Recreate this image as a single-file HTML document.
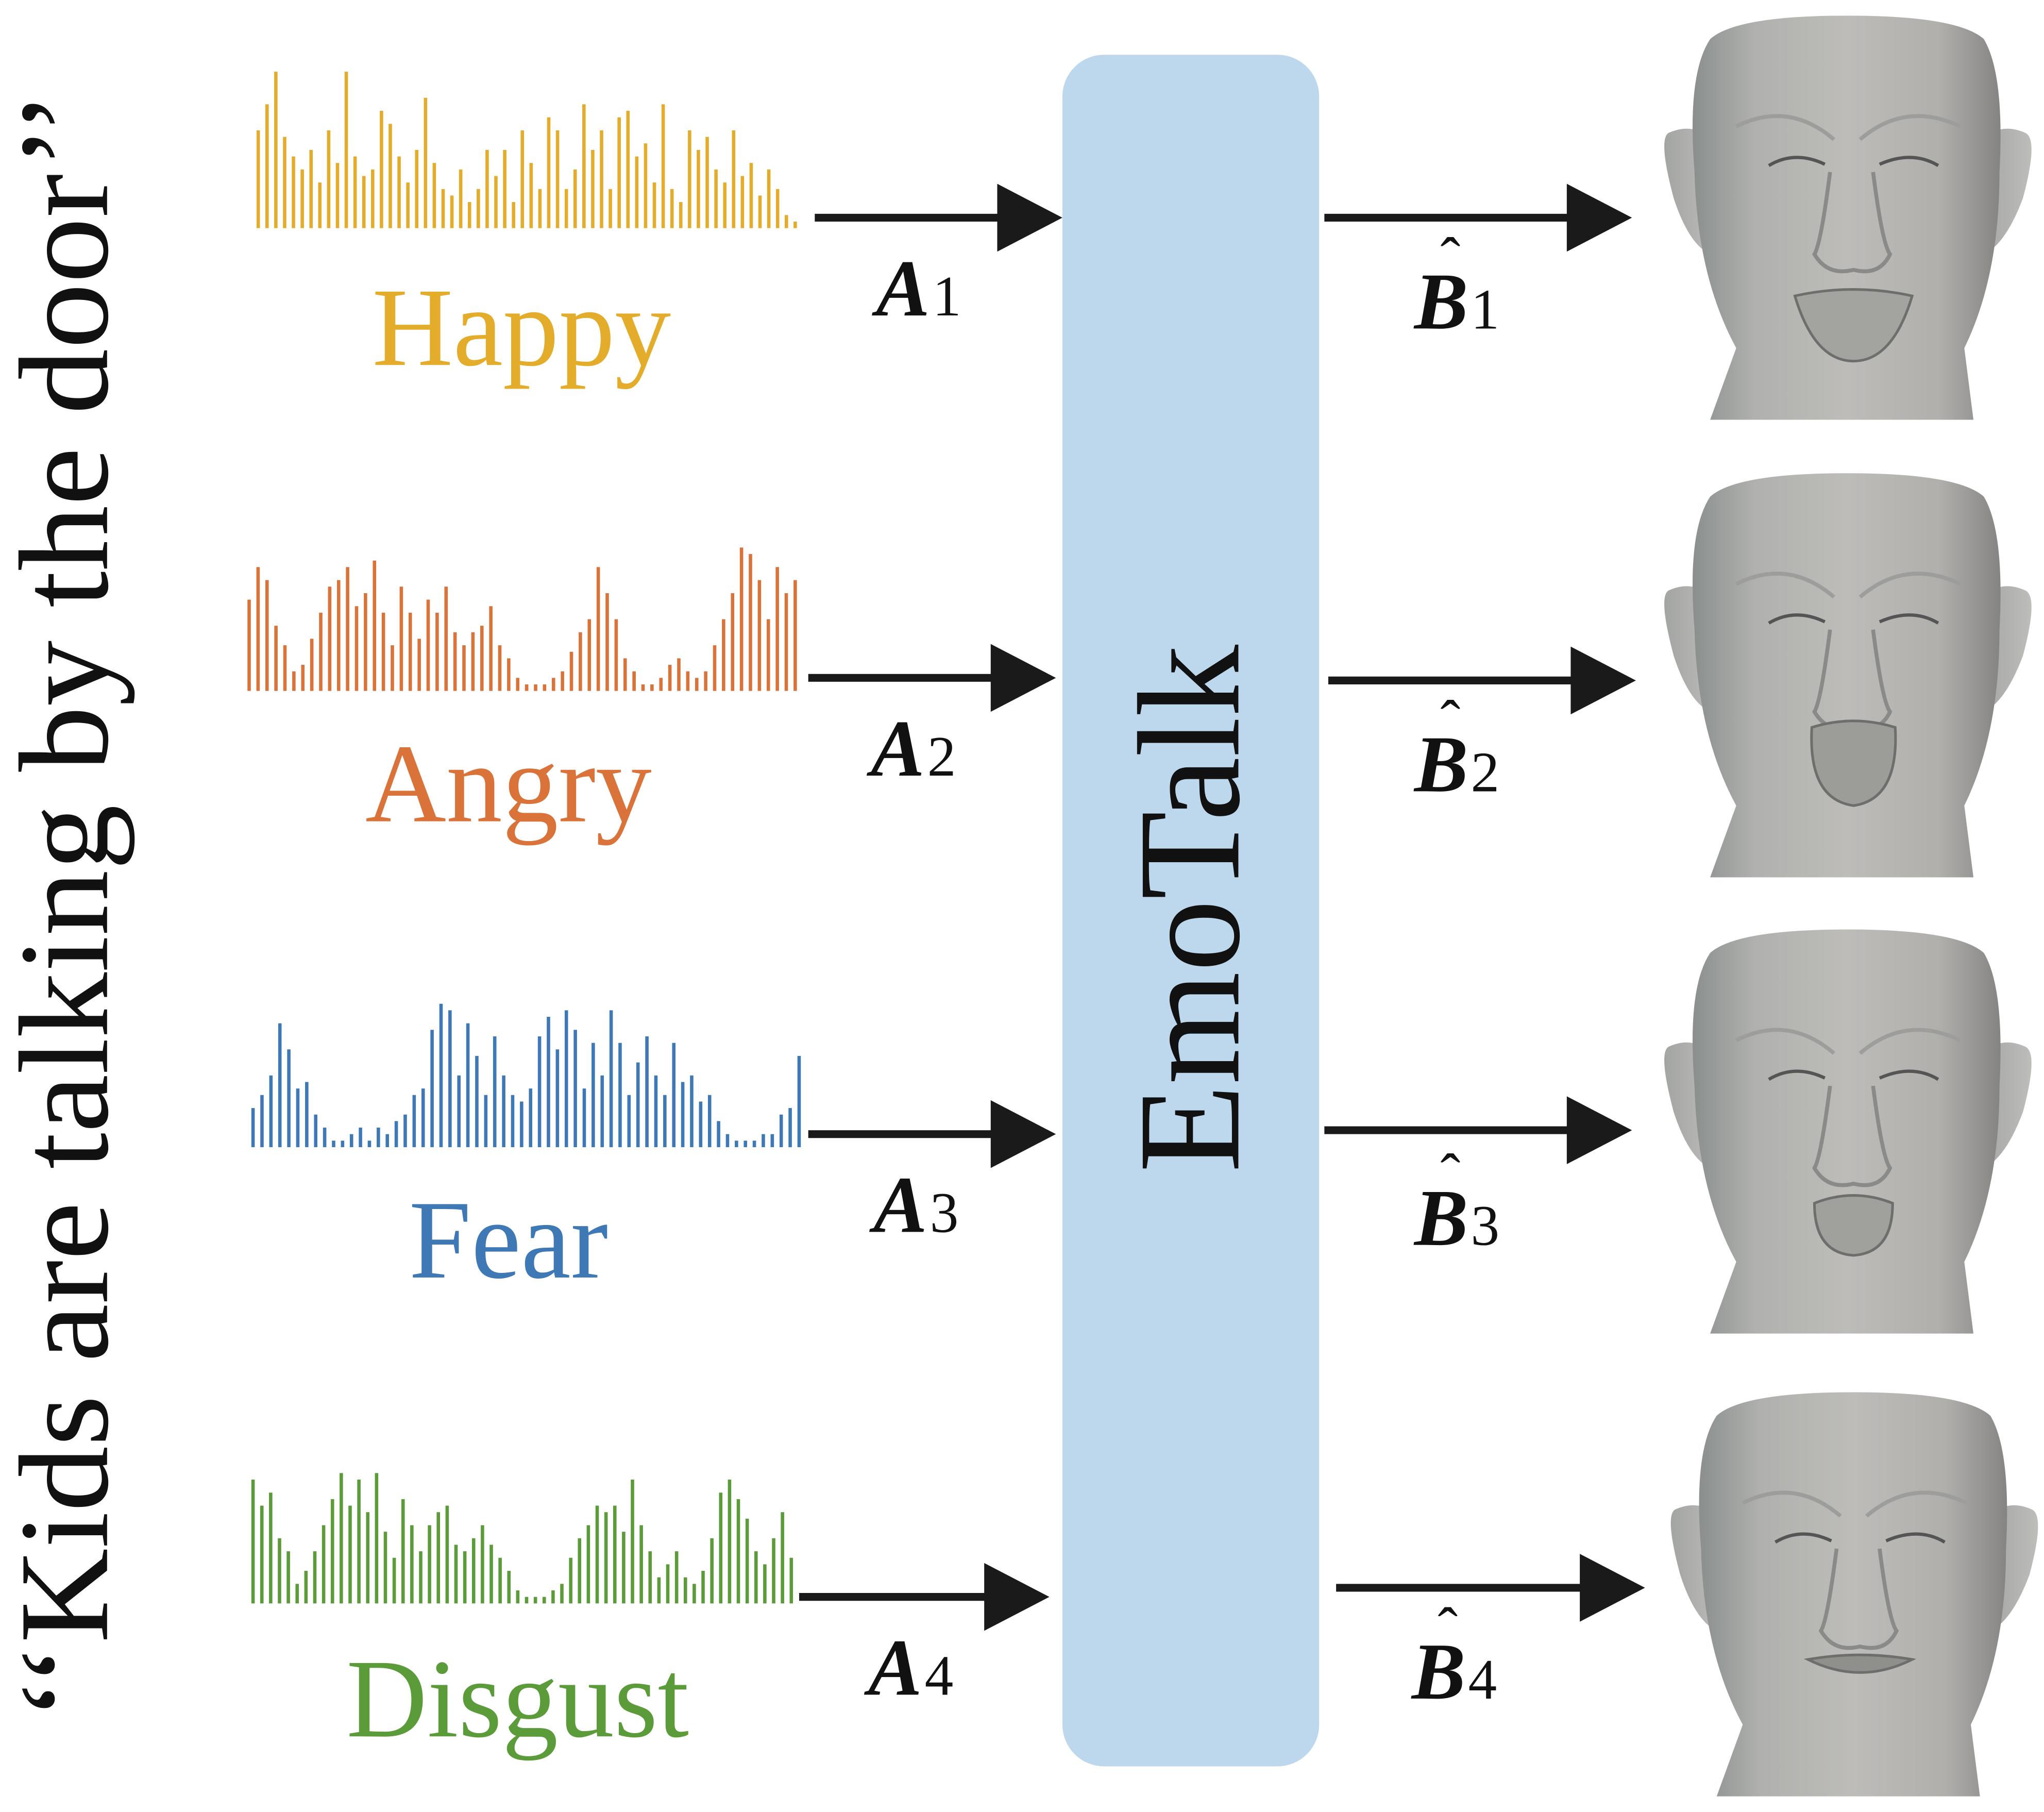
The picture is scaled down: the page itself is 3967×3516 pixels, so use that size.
<!DOCTYPE html>
<html><head><meta charset="utf-8"><style>
html,body{margin:0;padding:0;background:#fff;}
svg{display:block;}
text{font-family:"Liberation Serif",serif;}
</style></head><body>
<svg id="fig" width="3967" height="3516" viewBox="0 0 1568 1390" xmlns="http://www.w3.org/2000/svg">
<defs>
<linearGradient id="skin" x1="0" y1="0" x2="1" y2="0">
<stop offset="0" stop-color="#8a8f8d"/><stop offset="0.2" stop-color="#b0b1ae"/><stop offset="0.5" stop-color="#bdbcb9"/><stop offset="0.8" stop-color="#b0afac"/><stop offset="1" stop-color="#858482"/>
</linearGradient>
<linearGradient id="ear" x1="0" y1="0" x2="1" y2="0"><stop offset="0" stop-color="#a3a5a3"/><stop offset="1" stop-color="#bdbdba"/></linearGradient>
</defs>

<text transform="translate(82,695) rotate(-90)" text-anchor="middle" font-size="98" textLength="1250" lengthAdjust="spacingAndGlyphs" fill="#111">‘‘Kids are talking by the door’’</text>

<g id="waves"></g>

<text x="400" y="280" text-anchor="middle" font-size="86" fill="#e3ac2a">Happy</text>
<text x="390" y="630" text-anchor="middle" font-size="86" fill="#d9733a">Angry</text>
<text x="390" y="980" text-anchor="middle" font-size="86" fill="#3e79b5">Fear</text>
<text x="397" y="1332" text-anchor="middle" font-size="86" fill="#5b9b3a">Disgust</text>

<rect x="815" y="42" width="197" height="1313" rx="32" fill="#bdd7ec"/>
<text transform="translate(950,697) rotate(-90)" text-anchor="middle" font-size="112" textLength="405" lengthAdjust="spacingAndGlyphs" fill="#111">EmoTalk</text>

<g id="arrows"></g>
<g id="labels"></g>
<g id="faces"></g>
</svg>
<script>
const happy=[75,95,120,70,55,45,60,35,75,50,120,55,40,45,90,80,55,35,60,100,50,30,25,45,20,30,60,40,60,20,75,50,30,85,75,30,45,95,60,75,30,85,90,55,65,35,95,30,20,75,60,70,45,35,75,40,50,25,45,30,10,5];
const angry=[70,95,85,50,35,15,20,40,60,80,85,95,65,75,100,60,35,80,60,40,70,60,80,45,35,45,50,65,35,25,10,5,5,5,10,15,30,45,55,95,75,55,25,15,5,5,10,20,25,15,10,15,35,55,75,110,105,85,55,95,75,85];
const fear=[30,40,55,95,75,45,50,25,15,5,5,10,15,5,15,10,20,25,40,45,90,110,105,55,95,70,40,85,55,40,35,45,85,100,75,105,90,45,80,55,105,80,40,65,85,55,40,80,50,55,35,40,20,10,5,5,5,10,10,25,30,70];
const disgust=[95,75,85,50,40,15,25,40,60,80,100,75,95,70,100,55,35,80,60,40,60,70,75,45,40,50,60,45,35,25,10,5,5,5,10,15,35,50,60,75,70,75,55,95,60,40,20,30,40,20,15,25,50,85,95,80,65,40,30,50,70,35];
const NS='http://www.w3.org/2000/svg';
function mk(t,a,p){const e=document.createElementNS(NS,t);for(const k in a)e.setAttribute(k,a[k]);p.appendChild(e);return e;}
const waves=document.getElementById('waves');
const series=[[happy,198,610,175,'#e3ac2a','wave-happy'],[angry,191,610,530,'#d9733a','wave-angry'],[fear,194,613,880,'#3e79b5','wave-fear'],[disgust,194,607,1230,'#5b9b3a','wave-disgust']];
series.forEach(s=>{
  const [d,x0,x1,base,c,n]=s;
  const g=mk('g',{},waves);
  
  
  const step=(x1-x0)/(d.length-1);
  d.forEach((h,i)=>{
    const r=mk('rect',{x:x0+i*step-1.3,y:base-h,width:2.6,height:h,fill:c},g);
    
    
  });
});
const arrows=document.getElementById('arrows');
const arr=[[625,815,167],[620,810,520],[620,810,870],[613,805,1225],[1016,1252,167],[1019,1255,522],[1016,1252,867],[1025,1262,1218]];
arr.forEach(a=>{
  const [x0,x1,y]=a;
  const g=mk('g',{},arrows);
  
  
  mk('line',{x1:x0,y1:y,x2:x1-45,y2:y,stroke:'#1a1a1a','stroke-width':6},g);
  mk('polygon',{points:`${x1-50},${y-26} ${x1},${y} ${x1-50},${y+26}`,fill:'#1a1a1a'},g);
});
const labels=document.getElementById('labels');
const aL=[[672,242],[668,595],[670,945],[666,1300]];
aL.forEach((p,i)=>{
  const t=mk('text',{x:p[0],y:p[1],'font-size':62,fill:'#111'},labels);
  
  
  t.innerHTML='<tspan font-weight="bold" font-style="italic">A</tspan><tspan font-size="44" dx="2">'+(i+1)+'</tspan>';
});
const bL=[[1085,252],[1085,607],[1085,955],[1083,1303]];
bL.forEach((p,i)=>{
  const t=mk('text',{x:p[0],y:p[1],'font-size':62,fill:'#111'},labels);
  
  
  t.innerHTML='<tspan font-weight="bold" font-style="italic">B</tspan><tspan font-size="44" dx="2">'+(i+1)+'</tspan>';
  const h=mk('text',{x:p[0]+20,y:p[1]-38,'font-size':46,fill:'#111'},labels);
  
  
  h.textContent='ˆ';
});
const faces=document.getElementById('faces');
const fpos=[[1272,12,0],[1272,363,1],[1272,713,2],[1277,1068,3]];
fpos.forEach(f=>{
  const [x,y,k]=f;
  const g=mk('g',{transform:`translate(${x},${y})`},faces);
  
  
  mk('path',{d:'M8 90 Q0 95 12 140 Q25 180 45 185 L45 100 Q30 80 8 90 Z',fill:'url(#ear)'},g);
  mk('path',{d:'M282 90 Q292 95 280 140 Q265 180 245 185 L245 100 Q260 80 282 90 Z',fill:'url(#ear)'},g);
  mk('path',{d:'M28 120 Q22 45 40 18 Q60 0 145 0 Q230 0 250 18 Q266 45 262 120 Q262 200 235 255 L242 310 L40 310 L60 255 Q30 200 28 120 Z',fill:'url(#skin)'},g);
  mk('path',{d:'M60 85 Q100 65 135 95 M155 95 Q190 65 232 85',stroke:'#9d9e9b',fill:'none','stroke-width':3},g);
  mk('path',{d:'M85 115 Q105 103 128 114',stroke:'#555',fill:'none','stroke-width':2.5},g);
  mk('path',{d:'M170 114 Q195 103 215 115',stroke:'#555',fill:'none','stroke-width':2.5},g);
  mk('path',{d:'M132 120 Q125 175 120 183 Q130 200 150 195 Q170 200 178 183 Q172 175 165 120',stroke:'#8a8a88',fill:'none','stroke-width':3},g);
  const mouths=[['M105 215 Q150 205 195 215 Q180 265 150 265 Q120 265 105 215 Z','#a3a3a0'],['M118 195 Q150 185 182 195 Q185 250 150 255 Q115 250 118 195 Z','#9c9c99'],['M120 210 Q150 198 180 210 Q180 248 150 250 Q120 248 120 210 Z','#a0a09d'],['M110 205 Q150 198 190 205 Q150 225 110 205 Z','#8f8f8c']];
  mk('path',{d:mouths[k][0],fill:mouths[k][1],stroke:'#6e6e6c','stroke-width':2},g);
});
</script>
</body></html>
